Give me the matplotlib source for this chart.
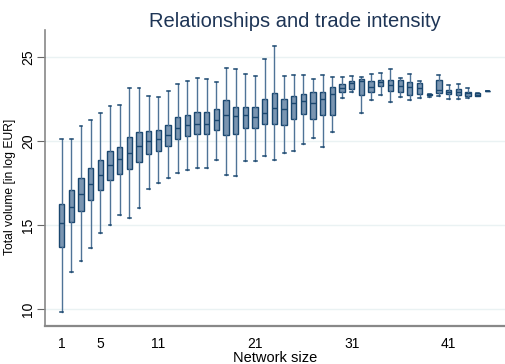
"""Box plot of trade volume by network size."""

import matplotlib
matplotlib.use("Agg")
import matplotlib.pyplot as plt

plt.rcParams['font.family'] = ['Liberation Sans', 'DejaVu Sans']

# network sizes 1..45 and the box statistics per size (log EUR)
network_size = list(range(1, 46))
whisk_hi = [20.15, 20.12, 20.90, 21.27, 21.65, 22.11, 22.15, 23.14, 23.18,
            22.66, 22.62, 23.00, 23.37, 23.57, 23.77, 23.67, 23.51, 24.33,
            24.29, 23.97, 23.87, 24.88, 25.63, 23.87, 23.91, 23.95, 23.71,
            23.93, 23.81, 23.79, 23.89, 23.79, 23.99, 24.03, 24.31, 23.75,
            23.97, 23.55, 22.80, 23.91, 23.36, 23.40, 23.16, 22.84, 23.00]
q3 = [16.24, 17.11, 17.83, 18.38, 18.88, 19.41, 19.67, 20.22, 20.56,
      20.60, 20.66, 20.98, 21.41, 21.55, 21.75, 21.71, 21.89, 22.44,
      22.01, 22.03, 22.05, 22.52, 22.84, 22.48, 22.68, 22.78, 22.94,
      22.90, 23.22, 23.41, 23.55, 23.69, 23.57, 23.61, 23.61, 23.61,
      23.49, 23.43, 22.80, 23.65, 23.04, 23.10, 22.94, 22.84, 23.00]
median = [15.15, 16.10, 16.84, 17.45, 18.00, 18.56, 18.92, 19.27, 19.69,
          19.99, 20.11, 20.34, 20.76, 20.94, 21.04, 21.04, 21.25, 21.53,
          21.49, 21.53, 21.41, 21.67, 21.97, 21.93, 22.25, 22.36, 22.27,
          22.48, 22.82, 23.18, 23.43, 23.59, 23.24, 23.49, 23.32, 23.28,
          23.20, 23.18, 22.76, 23.04, 22.92, 22.90, 22.84, 22.75, 23.00]
q1 = [13.72, 15.19, 15.84, 16.48, 17.09, 17.67, 18.06, 18.34, 18.78,
      19.23, 19.39, 19.71, 20.14, 20.28, 20.40, 20.42, 20.66, 20.38,
      20.42, 20.80, 20.80, 21.04, 21.02, 20.94, 21.31, 21.61, 21.31,
      21.53, 21.57, 22.92, 23.12, 22.74, 22.90, 23.30, 23.00, 22.92,
      22.72, 22.80, 22.72, 22.84, 22.78, 22.72, 22.68, 22.66, 23.00]
whisk_lo = [9.82, 12.20, 12.87, 13.64, 14.54, 15.01, 15.63, 15.45, 16.04,
            17.13, 17.53, 17.79, 18.12, 18.30, 18.38, 18.42, 18.88, 17.98,
            17.94, 18.84, 18.84, 19.13, 18.90, 19.27, 19.41, 19.81, 20.16,
            19.67, 20.56, 22.56, 22.92, 21.69, 22.44, 22.72, 22.31, 22.64,
            22.44, 22.54, 22.62, 22.68, 22.52, 22.52, 22.56, 22.66, 23.00]

stats = []
for i in range(len(network_size)):
    stats.append({'med': median[i], 'q1': q1[i], 'q3': q3[i],
                  'whislo': whisk_lo[i], 'whishi': whisk_hi[i], 'fliers': []})

navy = '#1a476f'
fig = plt.figure(figsize=(5.05, 3.64), dpi=100)
ax = fig.add_axes([0.089, 0.105, 0.911, 0.8125])

ax.bxp(stats, positions=network_size, widths=0.55, patch_artist=True,
       showfliers=False,
       boxprops=dict(facecolor='#7a95b1', edgecolor=navy, linewidth=1.0),
       medianprops=dict(color=navy, linewidth=1.0),
       whiskerprops=dict(color='#4f7397', linewidth=1.0),
       capprops=dict(color=navy, linewidth=1.1),
       capwidths=0.3)

ax.set_xlim(-0.73, 46.84)
ax.set_ylim(9.025, 26.6)

# light horizontal grid like Stata s2color
ax.set_yticks([10, 15, 20, 25])
ax.yaxis.grid(True, color='#eaf2f3', linewidth=1.0)
ax.set_axisbelow(True)
ax.tick_params(axis='y', labelrotation=90, length=6, color='#666666',
               labelsize=10, pad=1)
for lab in ax.get_yticklabels():
    lab.set_va('center')

ax.set_xticks([1, 5, 11, 21, 31, 41])
ax.set_xticklabels(['1', '5', '11', '21', '31', '41'])
ax.tick_params(axis='x', length=0, labelsize=10, pad=8)

for side in ['top', 'right']:
    ax.spines[side].set_visible(False)
ax.spines['left'].set_color('#888888')
ax.spines['bottom'].set_color('#888888')
ax.spines['left'].set_linewidth(1.2)
ax.spines['bottom'].set_linewidth(1.6)

ax.set_ylabel('Total volume [in log EUR]', fontsize=8.7, va='center')
ax.yaxis.set_label_coords(-0.076, 0.47)
ax.set_xlabel('Network size', fontsize=10.5, labelpad=0)
fig.suptitle('Relationships and trade intensity', x=0.583, y=0.968,
             fontsize=14.5, color='#1e3556')

fig.savefig('out.png', dpi=100)
